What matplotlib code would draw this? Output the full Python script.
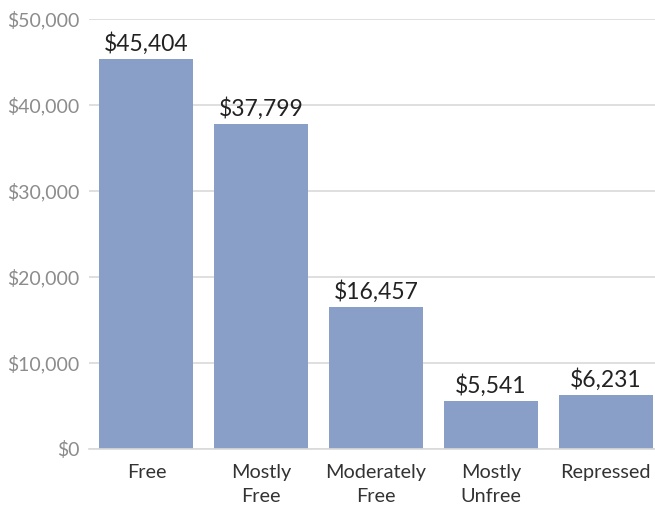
import matplotlib
matplotlib.use('Agg')
import matplotlib.pyplot as plt
from matplotlib.ticker import FuncFormatter

plt.rcParams['font.family'] = ['Lato', 'DejaVu Sans']

categories = ['Free', 'Mostly\nFree', 'Moderately\nFree', 'Mostly\nUnfree', 'Repressed']
values = [45404, 37799, 16457, 5541, 6231]
yticks = [0, 10000, 20000, 30000, 40000, 50000]

fig = plt.figure(figsize=(6.55, 5.08), dpi=100)
ax = fig.add_axes([89/655, 59/508, 566/655, 430/508])

x = range(len(categories))
bars = ax.bar(x, values, width=0.82, color='#8a9fc8', zorder=2)

for b, v in zip(bars, values):
    ax.annotate('${:,}'.format(v), (b.get_x() + b.get_width()/2, v),
                xytext=(0, 3), textcoords='offset points',
                ha='center', va='bottom', fontsize=16.5, color='#222222')

ax.set_xlim(-0.5, 4.43)
ax.set_ylim(0, 50000)
ax.set_yticks(yticks)
ax.yaxis.set_major_formatter(FuncFormatter(lambda v, p: '${:,.0f}'.format(v)))
ax.set_xticks(list(x))
ax.set_xticklabels(categories, fontsize=14.3, color='#333333', linespacing=1.45, va='top')
ax.tick_params(axis='y', labelsize=14, labelcolor='#8c8c8c', length=0, pad=7)
ax.tick_params(axis='x', length=0, pad=11)
ax.grid(axis='y', color='#d9d9d9', linewidth=1.2, zorder=0)
for s in ['top', 'right', 'left']:
    ax.spines[s].set_visible(False)
ax.spines['bottom'].set_color('#d9d9d9')
ax.spines['bottom'].set_linewidth(1.2)

fig.savefig('out.png', dpi=100)
